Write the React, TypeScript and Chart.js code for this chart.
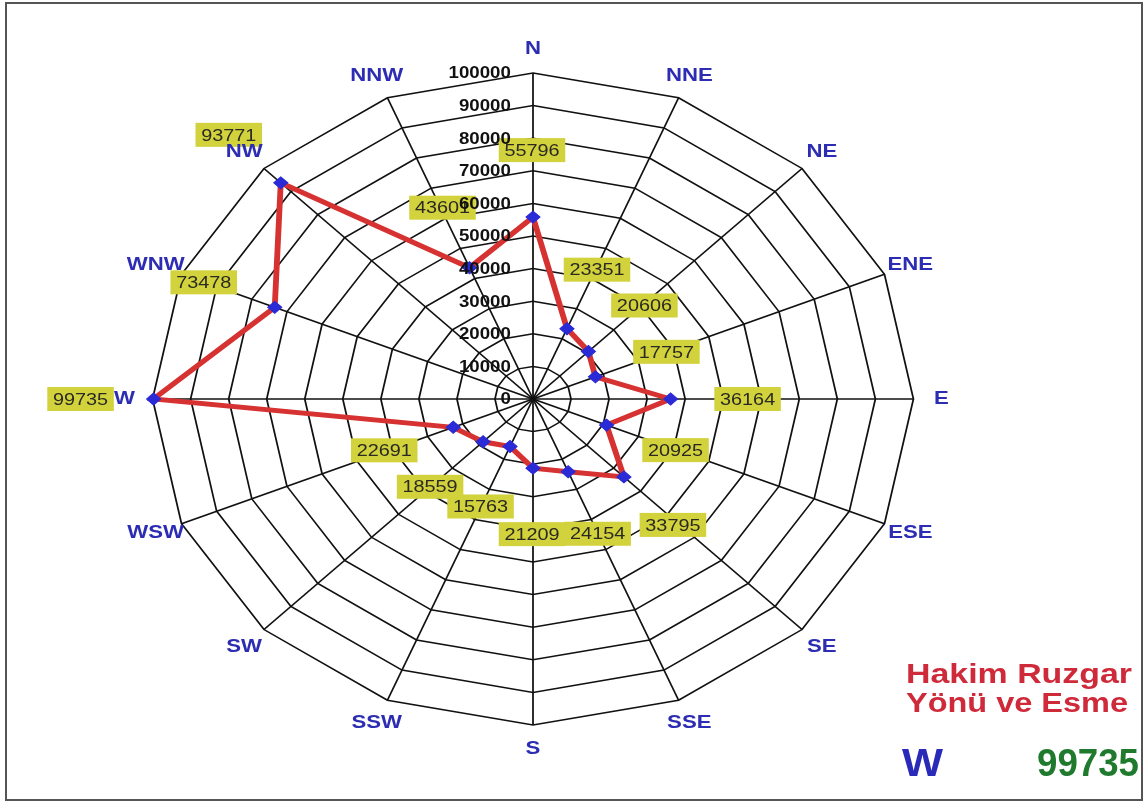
import React, { useEffect, useRef } from 'react';
import { Chart, registerables } from 'chart.js';

Chart.register(...registerables);

// ---- data ----
const directions = ['N', 'NNE', 'NE', 'ENE', 'E', 'ESE', 'SE', 'SSE', 'S', 'SSW', 'SW', 'WSW', 'W', 'WNW', 'NW', 'NNW'];
const windTotals = [55796, 23351, 20606, 17757, 36164, 20925, 33795, 24154, 21209, 15763, 18559, 22691, 99735, 73478, 93771, 43601];
const scaleMin = 0;
const scaleMax = 100000;
const scaleStep = 10000;
const summaryTitle = ['Hakim Ruzgar', 'Yönü ve Esme'];
const dominantDirection = 'W';
const dominantValue = '99735';

// ---- layout / style (not data) ----
const W = 1146;
const H = 803;
const SX = 1.167; // horizontal stretch of the whole rose
// data label box offsets from their point, in page pixels
const labelOffsets: [number, number][] = [
  [-1, -67], [30, -59], [56, -46], [71, -25], [77, 0], [69, 25], [49, 48], [29.5, 62],
  [-1, 66], [-29.5, 60], [-53, 45], [-69, 23], [-73, 0], [-71, -25], [-52, -48], [-27, -60],
];
const FONT = '"Liberation Sans", Arial, Helvetica, sans-serif';

function fitText(ctx: CanvasRenderingContext2D, text: string, left: number, baseline: number, width: number, cap: number, color: string) {
  const size = cap / 0.716;
  ctx.save();
  ctx.font = `bold ${size}px ${FONT}`;
  const w = ctx.measureText(text).width;
  ctx.translate(left, baseline);
  ctx.scale(width / w, 1);
  ctx.fillStyle = color;
  ctx.textAlign = 'left';
  ctx.textBaseline = 'alphabetic';
  ctx.fillText(text, 0, 0);
  ctx.restore();
}

const rosePlugin = {
  id: 'rosePlugin',
  beforeDraw(chart: any) {
    const ctx = chart.ctx as CanvasRenderingContext2D;
    const cx = chart.scales.r.xCenter;
    ctx.save();
    ctx.translate(cx, 0);
    ctx.scale(SX, 1);
    ctx.translate(-cx, 0);
  },
  afterDatasetsDraw(chart: any) {
    const ctx = chart.ctx as CanvasRenderingContext2D;
    const scale = chart.scales.r;
    const values = chart.data.datasets[0].data as number[];
    const labels = chart.data.labels as string[];

    // data value boxes
    ctx.save();
    ctx.font = `17px ${FONT}`;
    ctx.textAlign = 'center';
    ctx.textBaseline = 'middle';
    values.forEach((v, i) => {
      const p = scale.getPointPositionForValue(i, v);
      const [dx, dy] = labelOffsets[i];
      const x = p.x + dx / SX;
      const y = p.y + dy;
      const bw = 57;
      const bh = 24;
      ctx.fillStyle = '#d2d23c';
      ctx.fillRect(x - bw / 2, y - bh / 2, bw, bh);
      ctx.fillStyle = '#2a2a22';
      ctx.fillText(String(v), x, y + 1);
    });
    ctx.restore();

    // tick labels along the N axis
    ctx.save();
    ctx.font = `bold 16px ${FONT}`;
    ctx.textAlign = 'right';
    ctx.textBaseline = 'middle';
    ctx.fillStyle = '#111111';
    scale.ticks.forEach((t: any) => {
      const p = scale.getPointPositionForValue(0, t.value);
      ctx.fillText(String(t.value), scale.xCenter - 19, p.y + 1);
    });
    ctx.restore();

    // direction labels
    ctx.save();
    ctx.font = `bold 19px ${FONT}`;
    ctx.textAlign = 'center';
    ctx.textBaseline = 'middle';
    ctx.fillStyle = '#2d2db4';
    labels.forEach((lab, i) => {
      const p = scale.getPointPosition(i, scale.drawingArea + 24);
      ctx.fillText(lab, p.x, p.y);
    });
    ctx.restore();
  },
  afterDraw(chart: any) {
    const ctx = chart.ctx as CanvasRenderingContext2D;
    ctx.restore();
    // summary text
    fitText(ctx, summaryTitle[0], 906, 683, 226, 19.5, '#cf2a3a');
    fitText(ctx, summaryTitle[1], 906, 712, 222, 19.5, '#cf2a3a');
    fitText(ctx, dominantDirection, 902, 776, 41, 28, '#2a2ab8');
    fitText(ctx, dominantValue, 1037, 776, 102, 28, '#1f7a2e');
    // frame
    ctx.save();
    ctx.strokeStyle = '#555555';
    ctx.lineWidth = 2;
    ctx.strokeRect(6, 3, 1136, 797);
    ctx.restore();
  },
};

export default function App() {
  const ref = useRef<HTMLCanvasElement | null>(null);
  useEffect(() => {
    if (!ref.current) return;
    const chart = new Chart(ref.current, {
      type: 'radar',
      data: {
        labels: directions,
        datasets: [
          {
            data: windTotals,
            borderColor: '#d73232',
            borderWidth: 5,
            backgroundColor: 'rgba(0,0,0,0)',
            fill: false,
            pointStyle: 'rectRot',
            pointRadius: 6,
            pointBackgroundColor: '#2a2ad6',
            pointBorderColor: '#2a2ad6',
            pointBorderWidth: 1,
            tension: 0,
          },
        ],
      },
      options: {
        responsive: false,
        devicePixelRatio: 1,
        animation: false,
        events: [],
        layout: { padding: { top: 73, bottom: 78, left: 0, right: 80 } },
        plugins: { legend: { display: false }, tooltip: { enabled: false } },
        scales: {
          r: {
            min: scaleMin,
            max: scaleMax,
            ticks: { stepSize: scaleStep, display: false },
            grid: { color: '#111111', lineWidth: 1.5, circular: false },
            angleLines: { color: '#111111', lineWidth: 1.5 },
            pointLabels: { display: false },
          },
        },
      },
      plugins: [rosePlugin],
    });
    return () => chart.destroy();
  }, []);
  return (
    <div style={{ position: 'fixed', left: 0, top: 0, width: W, height: H, background: '#ffffff' }}>
      <canvas ref={ref} width={W} height={H} style={{ display: 'block', width: W, height: H }} />
    </div>
  );
}
